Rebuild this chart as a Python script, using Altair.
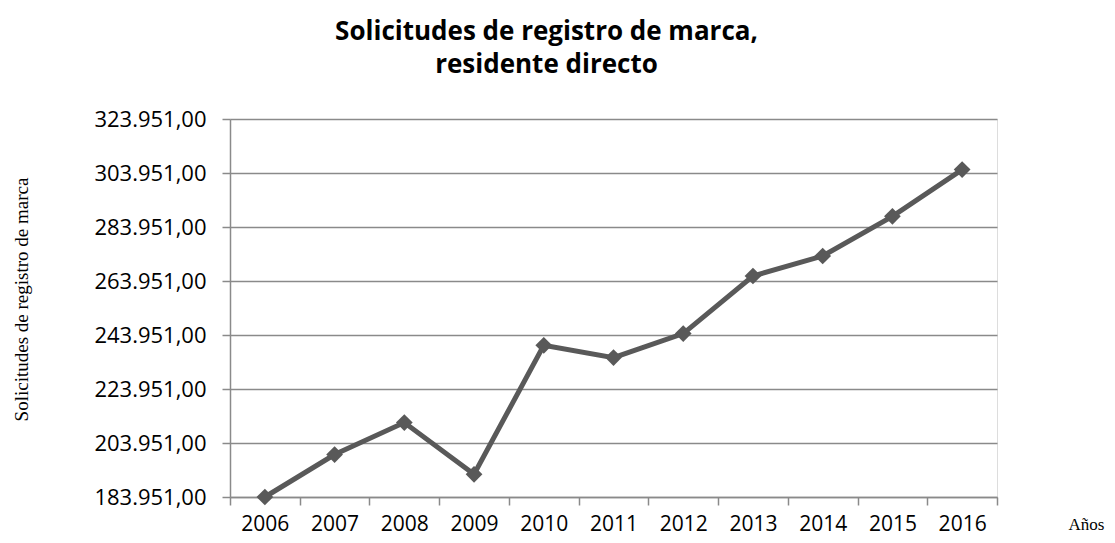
import altair as alt
import pandas as pd

years = ["2006", "2007", "2008", "2009", "2010", "2011", "2012", "2013", "2014", "2015", "2016"]
values = [183951, 199660, 211510, 192360, 240140, 235580, 244470, 265800, 273210, 287910, 305210]
y_ticks = [183951, 203951, 223951, 243951, 263951, 283951, 303951, 323951]

df = pd.DataFrame({"year": years, "value": values})

label_expr = "replace(replace(replace(format(datum.value, ',.2f'), ',', '_'), '.', ','), '_', '.')"

grey = "#8a8a8a"

base = alt.Chart(df).encode(
    x=alt.X(
        "year:O",
        scale=alt.Scale(type="band", paddingInner=0, paddingOuter=0),
        axis=alt.Axis(
            title="Años",
            titleFont="Liberation Serif",
            titleFontSize=17,
            titleFontWeight="normal",
            titleColor="#000000",
            titleX=856,
            titleY=27,
            titleAlign="center",
            titleBaseline="middle",
            labelAngle=0,
            labelFont="Open Sans",
            labelFontSize=21,
            labelColor="#000000",
            labelPadding=8,
            tickBand="extent",
            tickSize=8,
            tickColor=grey,
            domainColor=grey,
            domainWidth=1.5,
            tickWidth=1.5,
            grid=False,
        ),
    ),
    y=alt.Y(
        "value:Q",
        scale=alt.Scale(domain=[183951, 323951], nice=False, zero=False),
        axis=alt.Axis(
            values=y_ticks,
            labelExpr=label_expr,
            title="Solicitudes de registro de marca",
            titleFont="Liberation Serif",
            titleFontSize=19,
            titleFontWeight="normal",
            titleColor="#000000",
            titleX=-209,
            titleY=180,
            titleAngle=-90,
            titleAlign="center",
            titleBaseline="middle",
            labelFont="Open Sans",
            labelFontSize=22,
            labelColor="#000000",
            labelPadding=16,
            tickSize=8,
            tickColor=grey,
            tickWidth=1.5,
            domainColor=grey,
            domainWidth=1.5,
            gridColor=grey,
            gridWidth=1.5,
        ),
    ),
)

line = base.mark_line(color="#595959", strokeWidth=5)
pts = base.mark_point(shape="diamond", filled=True, color="#595959", size=280, opacity=1)

chart = (
    (line + pts)
    .properties(
        width=767,
        height=378,
        autosize=alt.AutoSizeParams(type="none"),
        padding={"left": 222, "top": 111, "right": 110, "bottom": 44},
        title=alt.TitleParams(
            text=["Solicitudes de registro de marca,", "residente directo"],
            font="Open Sans",
            fontSize=26,
            fontWeight="bold",
            color="#000000",
            anchor="middle",
            dx=-67,
            offset=30,
            lineHeight=33,
        ),
    )
    .configure_view(stroke=None)
    .configure(background="white")
)

chart.save("out.html", embed_options={"renderer": "svg", "actions": False})
